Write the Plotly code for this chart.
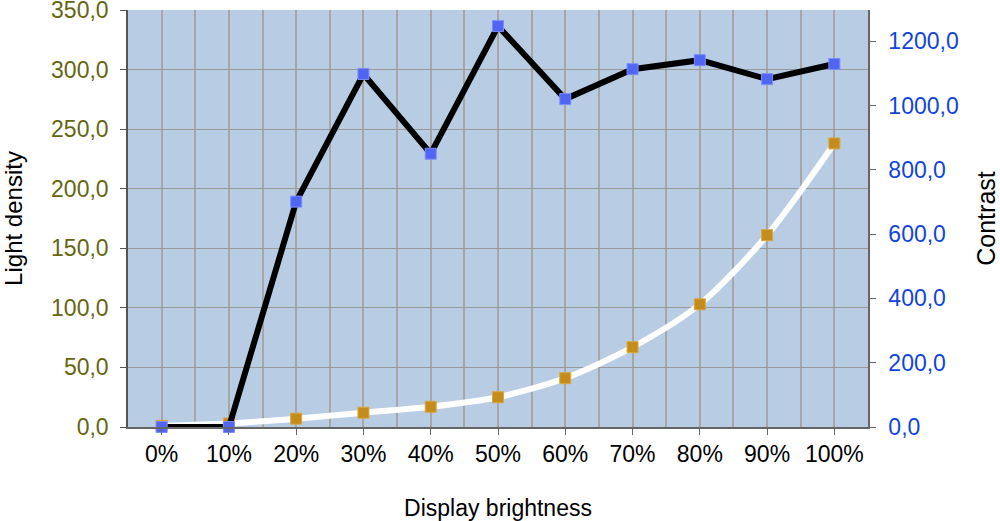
import plotly.graph_objects as go

categories = ["0%", "10%", "20%", "30%", "40%", "50%", "60%", "70%", "80%", "90%", "100%"]
light_density = [1, 3, 7, 12, 17, 25, 41, 67, 103, 161, 238]
contrast = [0, 0, 701, 1098, 850, 1247, 1020, 1113, 1141, 1082, 1129]

xs = list(range(len(categories)))
font = "Liberation Sans, Arial, sans-serif"

fig = go.Figure()
fig.add_trace(go.Scatter(
    x=xs, y=light_density, yaxis="y", mode="lines+markers",
    line=dict(color="white", width=6, shape="spline", smoothing=0.8),
    marker=dict(symbol="square", size=11, color="#c48b1d", line=dict(color="#d9a83e", width=1)),
    showlegend=False, cliponaxis=False,
))
fig.add_trace(go.Scatter(
    x=xs, y=contrast, yaxis="y2", mode="lines+markers",
    line=dict(color="black", width=6),
    marker=dict(symbol="square", size=11, color="#5066f2", line=dict(color="#7d8cff", width=1)),
    showlegend=False, cliponaxis=False,
))

fig.update_layout(
    width=1000, height=521,
    margin=dict(l=128, r=132, t=10, b=94, autoexpand=False),
    paper_bgcolor="white", plot_bgcolor="#b8cce4",
    separators=", ",
    font=dict(family=font, size=23, color="black"),
    xaxis=dict(
        range=[-0.5, 10.5], tickvals=xs, ticktext=categories,
        showgrid=True, gridcolor="#a6a6a6", gridwidth=2,
        minor=dict(tickvals=[i - 0.5 for i in range(12)], showgrid=True, gridcolor="#a6a6a6", gridwidth=2),
        showline=True, linecolor="#666666", linewidth=1.5,
        ticks="outside", ticklen=6, tickcolor="#666666",
        tickfont=dict(size=23, color="black"),
        title=dict(text="Display brightness", font=dict(size=23, color="black"), standoff=34),
        zeroline=False, automargin=False,
    ),
    yaxis=dict(
        range=[0, 350.01], tickvals=[0, 50, 100, 150, 200, 250, 300, 350], tickformat=".1f",
        showgrid=True, gridcolor="#999999", gridwidth=1,
        showline=True, linecolor="#555555", linewidth=1.5,
        ticks="outside", ticklen=6, tickcolor="#555555",
        tickfont=dict(size=23, color="#666611"),
        ticklabelstandoff=7, ticklabeloverflow="allow",
        title=dict(text="Light density", font=dict(size=24, color="black"), standoff=36),
        zeroline=False, automargin=False,
    ),
    yaxis2=dict(
        range=[0, 1297], tickvals=[0, 200, 400, 600, 800, 1000, 1200], tickformat=".1f",
        overlaying="y", side="right", showgrid=False,
        showline=True, linecolor="#666666", linewidth=1.5,
        ticks="outside", ticklen=6, tickcolor="#666666",
        tickfont=dict(size=23, color="#1144dd"),
        ticklabelstandoff=8, ticklabeloverflow="allow",
        title=dict(text="Contrast", font=dict(size=25, color="black"), standoff=20),
        zeroline=False, automargin=False,
    ),
)

fig.write_html(
    "out.html",
    config={"displayModeBar": False},
    post_script="document.body.style.margin='0';document.body.style.overflow='hidden';",
)
